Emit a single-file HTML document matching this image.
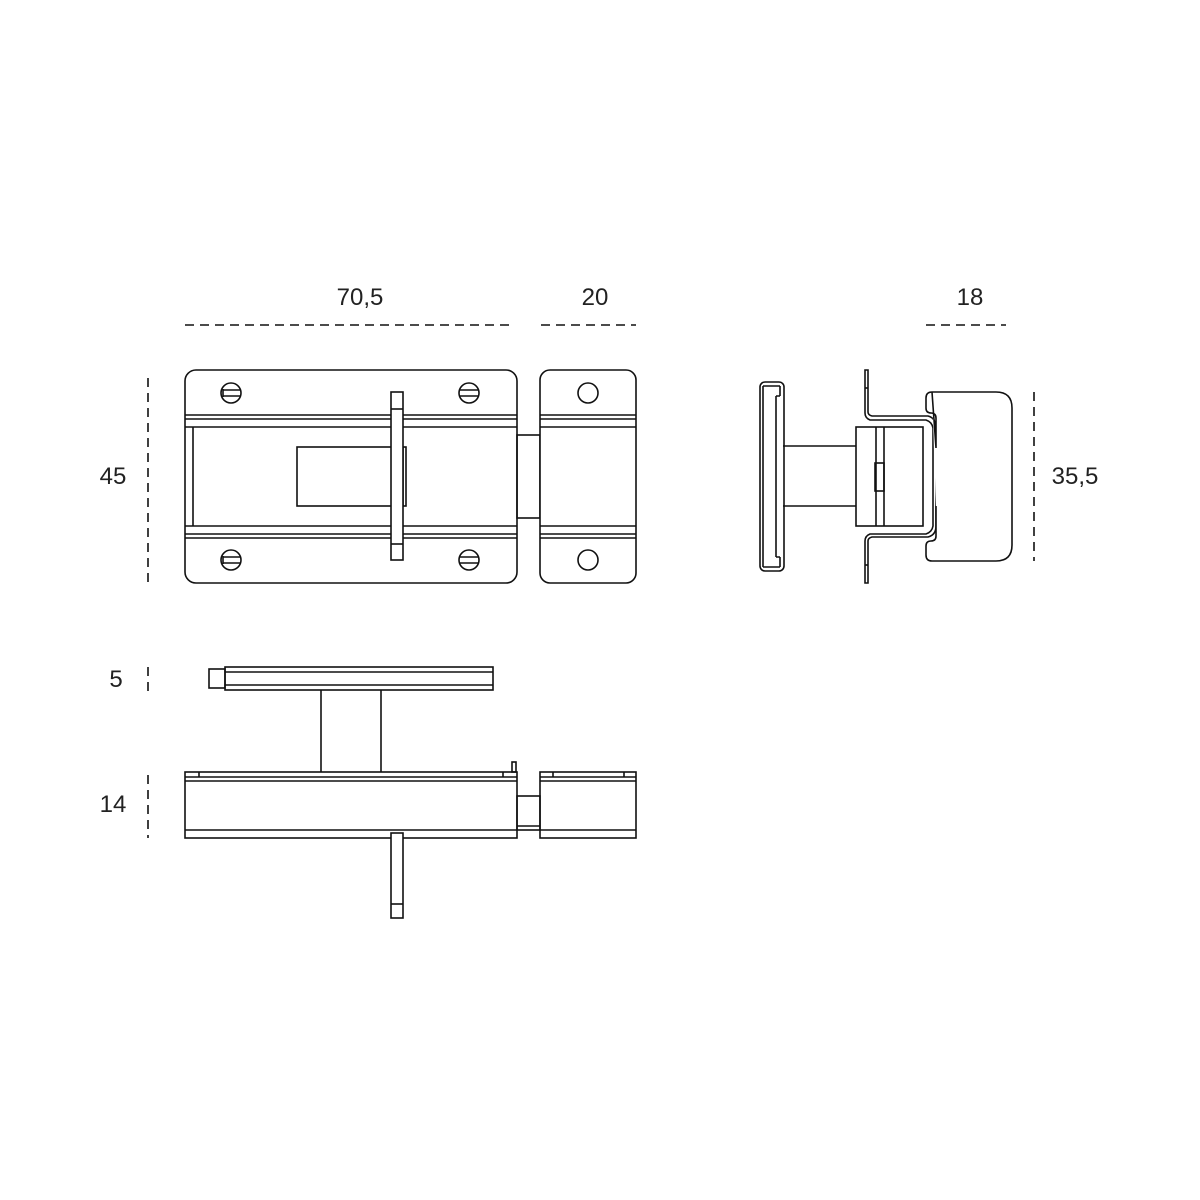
<!DOCTYPE html>
<html><head><meta charset="utf-8"><style>html,body{margin:0;padding:0;background:#fff}svg{display:block}</style></head><body>
<svg width="1200" height="1200" viewBox="0 0 1200 1200" xmlns="http://www.w3.org/2000/svg">
<g fill="none" stroke="#111" stroke-width="1.6">
<g stroke-dasharray="9,6" stroke-width="1.6">
<line x1="185" y1="325" x2="515" y2="325"/>
<line x1="541" y1="325" x2="636" y2="325"/>
<line x1="926" y1="325" x2="1006" y2="325"/>
<line x1="148" y1="378" x2="148" y2="583"/>
<line x1="1034" y1="392" x2="1034" y2="561"/>
<line x1="148" y1="667" x2="148" y2="691"/>
<line x1="148" y1="775" x2="148" y2="838"/>
</g>
<rect x="185" y="370" width="332" height="213" rx="11"/>
<line x1="185" y1="415" x2="517" y2="415"/><line x1="185" y1="419" x2="517" y2="419"/><line x1="185" y1="427" x2="517" y2="427"/>
<line x1="185" y1="526" x2="517" y2="526"/><line x1="185" y1="534" x2="517" y2="534"/><line x1="185" y1="538" x2="517" y2="538"/>
<line x1="193" y1="427" x2="193" y2="526"/>
<g>
<circle cx="231" cy="393" r="10"/><line x1="223" y1="390" x2="240" y2="390"/><line x1="223" y1="396" x2="240" y2="396"/><line x1="223" y1="389" x2="223" y2="397"/>
<circle cx="469" cy="393" r="10"/><line x1="460" y1="390" x2="478" y2="390"/><line x1="460" y1="396" x2="478" y2="396"/>
<circle cx="231" cy="560" r="10"/><line x1="223" y1="557" x2="240" y2="557"/><line x1="223" y1="563" x2="240" y2="563"/><line x1="223" y1="556" x2="223" y2="564"/>
<circle cx="469" cy="560" r="10"/><line x1="460" y1="557" x2="478" y2="557"/><line x1="460" y1="563" x2="478" y2="563"/>
</g>
<rect x="297" y="447" width="96" height="59" fill="#fff"/>
<rect x="403" y="447" width="3" height="59"/>
<rect x="391" y="392" width="12" height="168" fill="#fff"/>
<line x1="391" y1="409" x2="403" y2="409"/><line x1="391" y1="544" x2="403" y2="544"/>
<rect x="517" y="435" width="23" height="83"/>
<rect x="540" y="370" width="96" height="213" rx="10" fill="#fff"/>
<line x1="540" y1="415" x2="636" y2="415"/><line x1="540" y1="419" x2="636" y2="419"/><line x1="540" y1="427" x2="636" y2="427"/>
<line x1="540" y1="526" x2="636" y2="526"/><line x1="540" y1="534" x2="636" y2="534"/><line x1="540" y1="538" x2="636" y2="538"/>
<circle cx="588" cy="393" r="10"/><circle cx="588" cy="560" r="10"/>
<!-- side view -->
<rect x="760" y="382" width="24" height="189" rx="5"/>
<path d="M763 386 H780 M763 567 H780 M763 386 V567 M780 386 V396 M780 557 V567 M776 557 H780 M776 396 H780 M776 396 V557"/>
<line x1="783" y1="446" x2="856" y2="446"/><line x1="783" y1="506" x2="856" y2="506"/>
<rect x="856" y="427" width="67" height="99"/>
<path d="M865 370 V413 Q865 418 870 420 H926 Q932 422 933 428 V526 Q932 532 926 534 H870 Q865 536 865 541 V583 H868 V541 Q868 538 872 537 H928 Q936 535 936 526 V428 Q936 418 928 416 H872 Q868 415 868 412 V370 Z"/>
<line x1="865" y1="388" x2="868" y2="388"/><line x1="865" y1="565" x2="868" y2="565"/>
<line x1="876" y1="427" x2="876" y2="526"/><line x1="884" y1="427" x2="884" y2="526"/>
<rect x="875" y="463" width="9" height="28"/>
<path d="M932 392 H996 Q1012 392 1012 408 V545 Q1012 561 996 561 H932 Q926 561 926 555 V546 Q926 541 931 541 Q936 541 936 536 V506 M936 448 V418 Q936 413 931 413 Q926 413 926 408 V398 Q926 392 932 392 Z" fill="#fff"/>
<!-- bottom view -->
<rect x="225" y="667" width="268" height="23"/>
<line x1="225" y1="672" x2="493" y2="672"/><line x1="225" y1="685" x2="493" y2="685"/>
<rect x="209" y="669" width="16" height="19"/>
<line x1="321" y1="690" x2="321" y2="772"/><line x1="381" y1="690" x2="381" y2="772"/>
<rect x="185" y="772" width="332" height="66"/>
<line x1="185" y1="777" x2="517" y2="777"/><line x1="185" y1="781" x2="517" y2="781"/><line x1="185" y1="830" x2="517" y2="830"/>
<line x1="199" y1="772" x2="199" y2="777"/><line x1="503" y1="772" x2="503" y2="777"/>
<rect x="512" y="762" width="4" height="10"/>
<rect x="517" y="796" width="23" height="34"/><line x1="517" y1="826" x2="540" y2="826"/>
<rect x="540" y="772" width="96" height="66"/>
<line x1="540" y1="777" x2="636" y2="777"/><line x1="540" y1="781" x2="636" y2="781"/><line x1="540" y1="830" x2="636" y2="830"/>
<line x1="553" y1="772" x2="553" y2="777"/><line x1="624" y1="772" x2="624" y2="777"/>
<rect x="391" y="833" width="12" height="85" fill="#fff"/><line x1="391" y1="904" x2="403" y2="904"/>
</g>
<g font-family="Liberation Sans, sans-serif" font-size="24" fill="#222" text-anchor="middle">
<text x="360" y="305">70,5</text>
<text x="595" y="305">20</text>
<text x="970" y="305">18</text>
<text x="113" y="484">45</text>
<text x="1075" y="484">35,5</text>
<text x="116" y="687">5</text>
<text x="113" y="812">14</text>
</g>
</svg>
</body></html>
